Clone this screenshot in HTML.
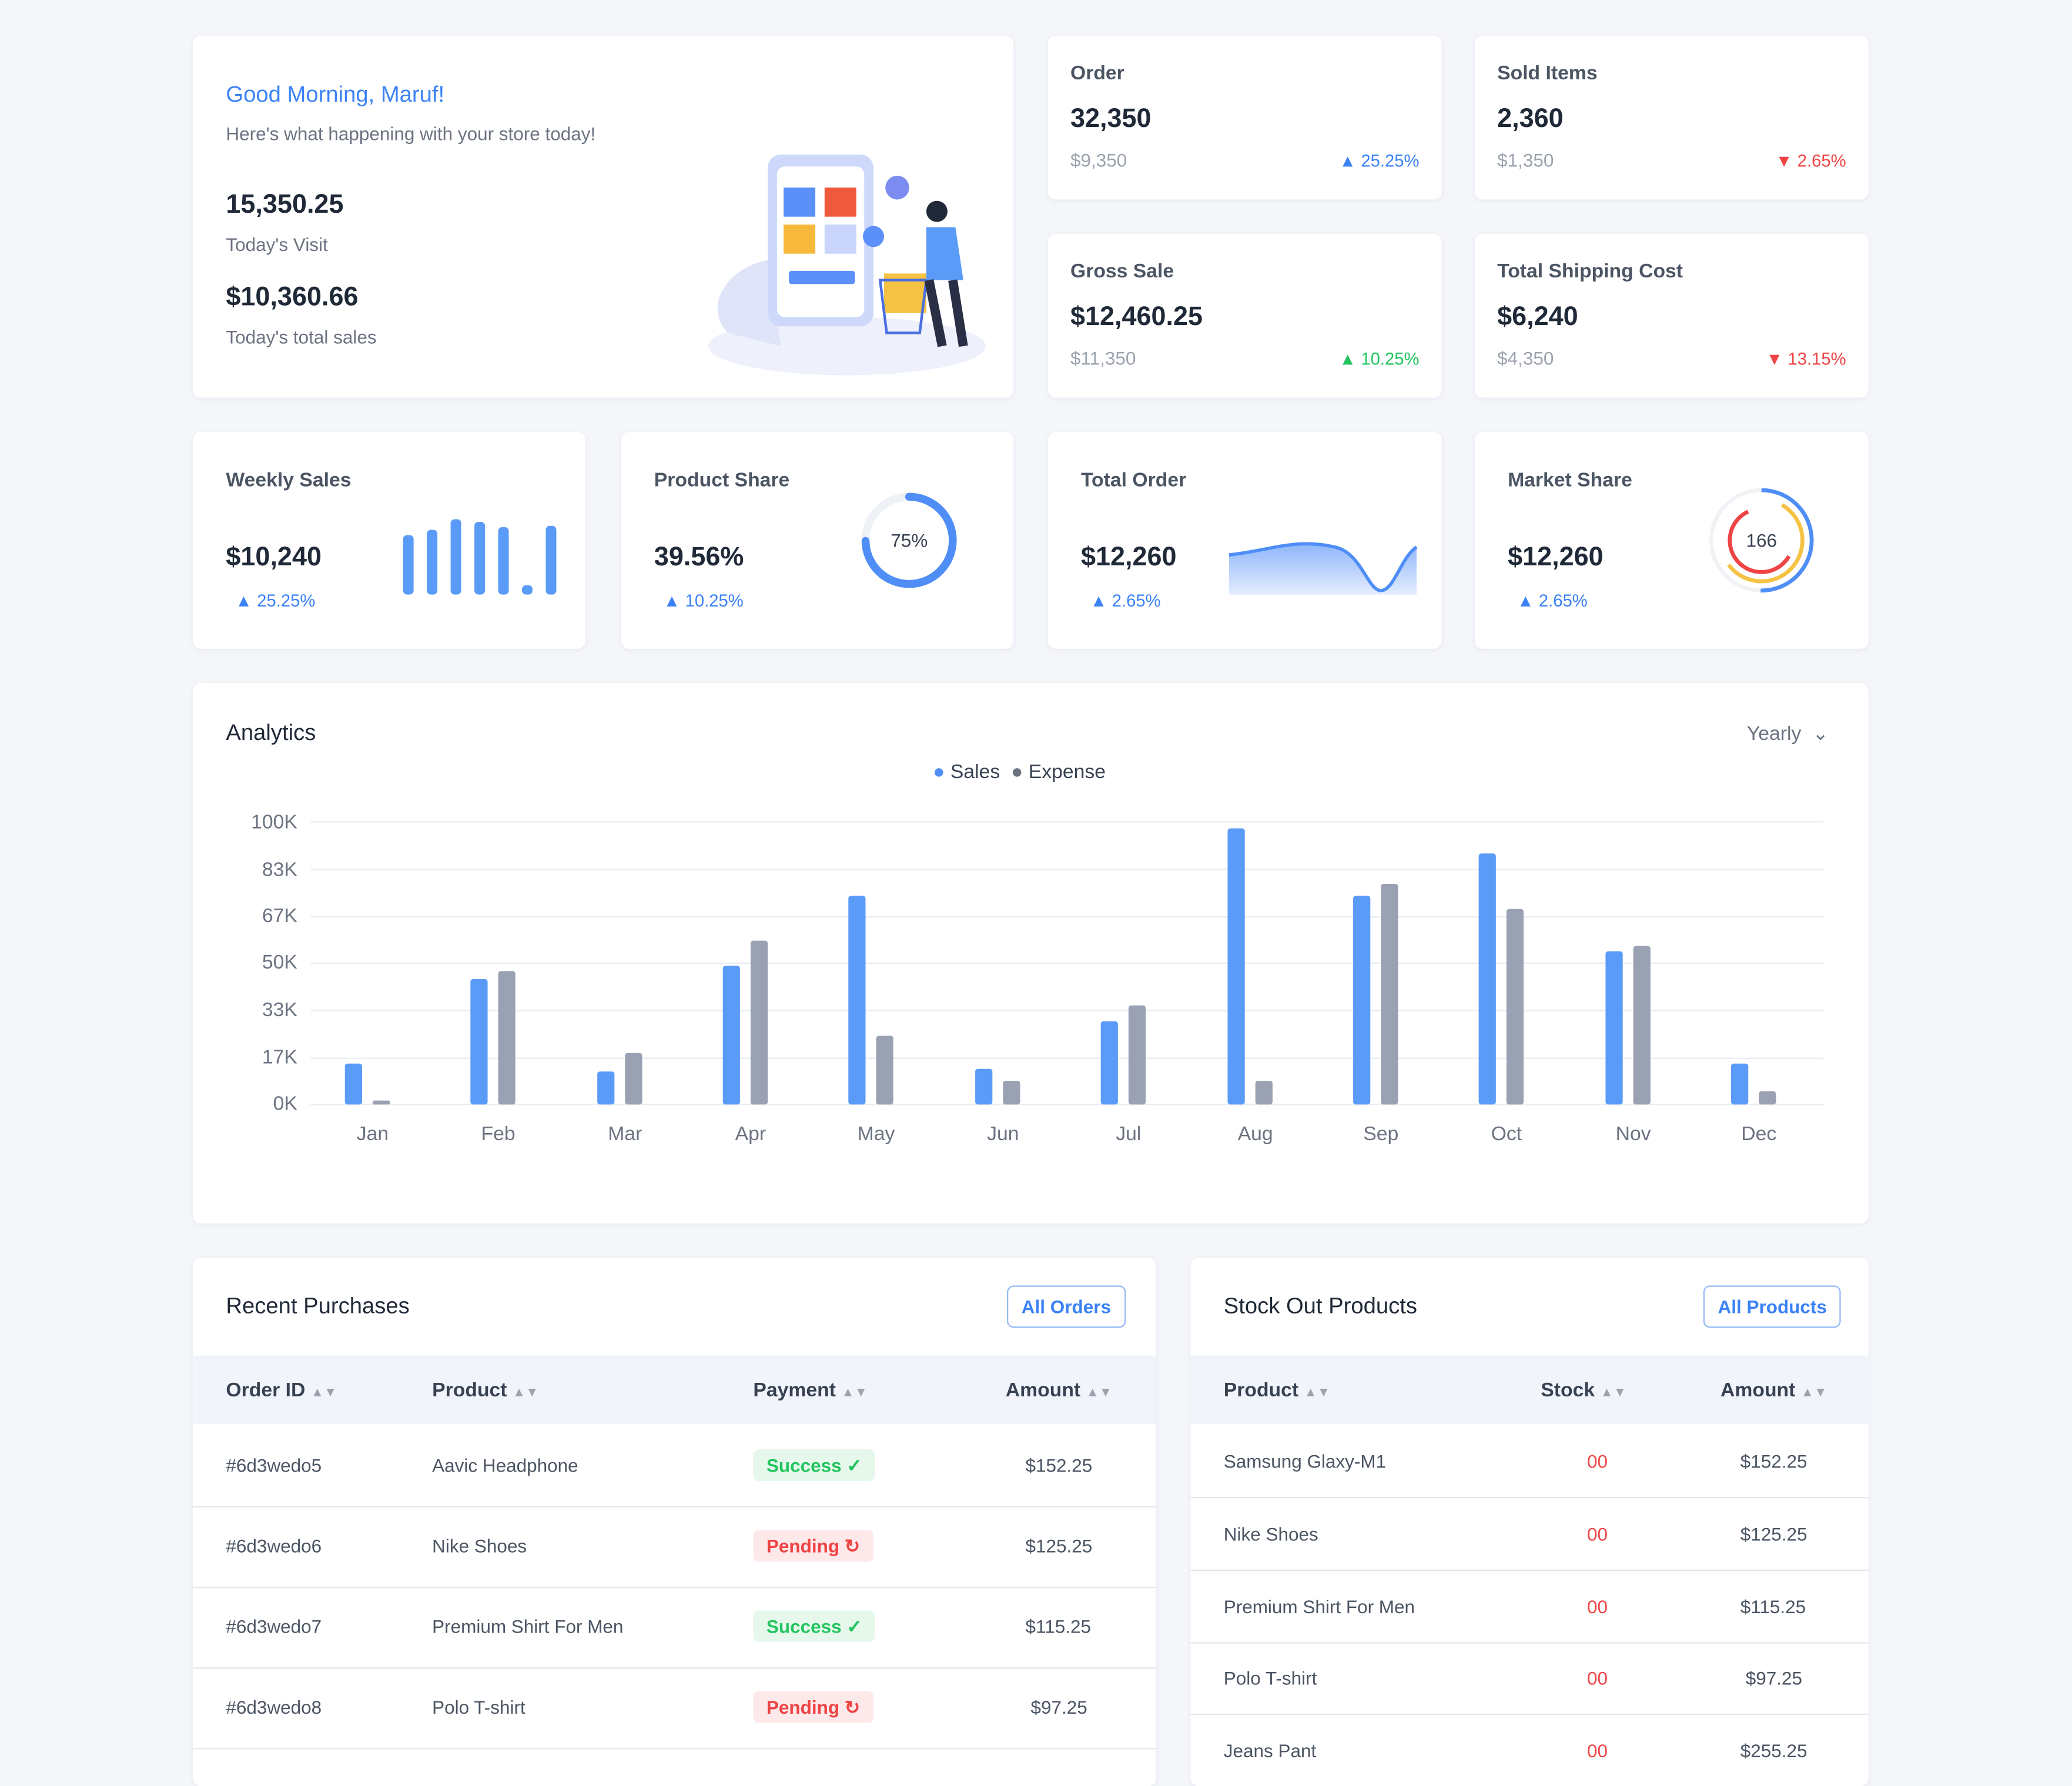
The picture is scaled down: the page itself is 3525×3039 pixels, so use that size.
<!DOCTYPE html>
<html><head><meta charset="utf-8"><style>
html,body{margin:0;padding:0;}
body{width:3525px;height:3000px;background:#f4f6fa;overflow:hidden;font-family:"Liberation Sans",sans-serif;}
#w{position:absolute;left:0;top:0;width:1568px;height:1335px;transform:scale(2.2481);transform-origin:0 0;}
.c{position:absolute;background:#fff;border-radius:6px;box-shadow:0 1px 4px rgba(30,40,80,0.06);overflow:hidden;}
.a{position:absolute;white-space:nowrap;}
.lbl{font-size:15px;color:#4b5563;font-weight:bold;}
.big{font-size:20px;font-weight:bold;color:#1f2937;}
.sub{font-size:14px;color:#9ca3af;}
.up{font-size:13px;color:#3b82f6;}
.upg{font-size:13px;color:#22c55e;}
.dn{font-size:13px;color:#ef4444;}
.th{font-size:15px;font-weight:bold;color:#374151;}
.td{font-size:14px;color:#4b5563;}
.ar{color:#9ca3af;font-size:10px;}
.badge{position:absolute;height:24px;border-radius:4px;font-size:14px;font-weight:bold;line-height:24px;padding:0 10px;}
.ok{background:#e6f8ec;color:#22c55e;}
.pd{background:#fde8ea;color:#ef4444;}
.btn{position:absolute;border:1px solid #93b8f5;border-radius:5px;color:#3b82f6;font-size:14px;font-weight:bold;height:30px;line-height:30px;padding:0 10px;}
.row{position:absolute;left:0;right:0;border-top:1px solid #e5e7eb;}
</style></head><body><div id="w">

<div class="c" style="left:146px;top:27px;width:621px;height:274px">
<div class="a" style="left:25px;top:35px;font-size:17px;color:#3b82f6">Good Morning, Maruf!</div>
<div class="a" style="left:25px;top:66px;font-size:14px;color:#6b7280">Here's what happening with your store today!</div>
<div class="a big" style="left:25px;top:117px">15,350.25</div>
<div class="a" style="left:25px;top:150px;font-size:14px;color:#6b7280">Today's Visit</div>
<div class="a big" style="left:25px;top:187px">$10,360.66</div>
<div class="a" style="left:25px;top:220px;font-size:14px;color:#6b7280">Today's total sales</div>
<svg class="a" style="left:385px;top:85px" width="220" height="180">
<ellipse cx="110" cy="150" rx="105" ry="22" fill="#eef1fb"/>
<path d="M20 140 C0 120 20 90 50 85 L60 150 Z" fill="#dfe4f8"/>
<rect x="50" y="5" width="80" height="130" rx="10" fill="#cdd8fb"/>
<rect x="57" y="14" width="66" height="114" rx="6" fill="#fff"/>
<rect x="62" y="30" width="24" height="22" fill="#5b8ff9"/><rect x="93" y="30" width="24" height="22" fill="#f05a3c"/>
<rect x="62" y="58" width="24" height="22" fill="#f6b93b"/><rect x="93" y="58" width="24" height="22" fill="#c9d5fb"/>
<rect x="66" y="93" width="50" height="10" rx="2" fill="#5b8ff9"/>
<circle cx="148" cy="30" r="9" fill="#7c8cf0"/><circle cx="130" cy="67" r="8" fill="#5b8ff9"/>
<rect x="138" y="95" width="32" height="30" fill="#f6c244"/>
<path d="M135 100 L170 100 L165 140 L140 140 Z" fill="none" stroke="#4b6fe0" stroke-width="2"/>
<circle cx="178" cy="48" r="8" fill="#1f2937"/>
<path d="M170 60 L192 60 L198 100 L170 100 Z" fill="#5b9bf8"/>
<path d="M172 100 L182 150 M190 100 L198 150" stroke="#2a2f45" stroke-width="7"/>
</svg>
</div>

<div class="c" style="left:793px;top:27px;width:298px;height:124px">
<div class="a lbl" style="left:17px;top:20px">Order</div>
<div class="a big" style="left:17px;top:52px">32,350</div>
<div class="a sub" style="left:17px;top:86px">$9,350</div>
<div class="a up" style="right:17px;top:87px">▲ 25.25%</div></div>
<div class="c" style="left:1116px;top:27px;width:298px;height:124px">
<div class="a lbl" style="left:17px;top:20px">Sold Items</div>
<div class="a big" style="left:17px;top:52px">2,360</div>
<div class="a sub" style="left:17px;top:86px">$1,350</div>
<div class="a dn" style="right:17px;top:87px">▼ 2.65%</div></div>
<div class="c" style="left:793px;top:177px;width:298px;height:124px">
<div class="a lbl" style="left:17px;top:20px">Gross Sale</div>
<div class="a big" style="left:17px;top:52px">$12,460.25</div>
<div class="a sub" style="left:17px;top:86px">$11,350</div>
<div class="a upg" style="right:17px;top:87px">▲ 10.25%</div></div>
<div class="c" style="left:1116px;top:177px;width:298px;height:124px">
<div class="a lbl" style="left:17px;top:20px">Total Shipping Cost</div>
<div class="a big" style="left:17px;top:52px">$6,240</div>
<div class="a sub" style="left:17px;top:86px">$4,350</div>
<div class="a dn" style="right:17px;top:87px">▼ 13.15%</div></div>

<div class="c" style="left:146px;top:327px;width:297px;height:164px">
<div class="a lbl" style="left:25px;top:28px">Weekly Sales</div>
<div class="a big" style="left:25px;top:84px">$10,240</div>
<div class="a up" style="left:32px;top:120px">▲ 25.25%</div>
<svg class="a" style="left:155px;top:60px" width="130" height="65">
<g fill="#5b9bf8"><rect x="4" y="18" width="8" height="45" rx="3"/><rect x="22" y="14" width="8" height="49" rx="3"/><rect x="40" y="6" width="8" height="57" rx="3"/><rect x="58" y="8" width="8" height="55" rx="3"/><rect x="76" y="12" width="8" height="51" rx="3"/><rect x="94" y="56" width="8" height="7" rx="3"/><rect x="112" y="11" width="8" height="52" rx="3"/></g></svg>
</div>
<div class="c" style="left:470px;top:327px;width:297px;height:164px">
<div class="a lbl" style="left:25px;top:28px">Product Share</div>
<div class="a big" style="left:25px;top:84px">39.56%</div>
<div class="a up" style="left:32px;top:120px">▲ 10.25%</div>
<svg class="a" style="left:178px;top:42px" width="80" height="80">
<circle cx="40" cy="40" r="33" fill="none" stroke="#eef1f6" stroke-width="6"/>
<circle cx="40" cy="40" r="33" fill="none" stroke="#4f8ef7" stroke-width="6" stroke-dasharray="155 207" transform="rotate(-90 40 40)" stroke-linecap="round"/>
<text x="40" y="45" font-size="14" text-anchor="middle" fill="#374151" font-family="Liberation Sans">75%</text></svg>
</div>
<div class="c" style="left:793px;top:327px;width:298px;height:164px">
<div class="a lbl" style="left:25px;top:28px">Total Order</div>
<div class="a big" style="left:25px;top:84px">$12,260</div>
<div class="a up" style="left:32px;top:120px">▲ 2.65%</div>
<svg class="a" style="left:137px;top:75px" width="145" height="50">
<defs><linearGradient id="g" x1="0" y1="0" x2="0" y2="1"><stop offset="0" stop-color="#8fb6fa"/><stop offset="1" stop-color="#e3edfe"/></linearGradient></defs>
<path d="M0 18 C30 15 50 5 80 12 C100 16 105 45 115 45 C125 45 130 20 142 12 L142 48 L0 48 Z" fill="url(#g)"/>
<path d="M0 18 C30 15 50 5 80 12 C100 16 105 45 115 45 C125 45 130 20 142 12" fill="none" stroke="#4f8ef7" stroke-width="2.5"/></svg>
</div>
<div class="c" style="left:1116px;top:327px;width:298px;height:164px">
<div class="a lbl" style="left:25px;top:28px">Market Share</div>
<div class="a big" style="left:25px;top:84px">$12,260</div>
<div class="a up" style="left:32px;top:120px">▲ 2.65%</div>
<svg class="a" style="left:175px;top:40px" width="84" height="84">
<circle cx="42" cy="42" r="38" fill="none" stroke="#f1f2f5" stroke-width="3"/>
<circle cx="42" cy="42" r="38" fill="none" stroke="#4f8ef7" stroke-width="3" stroke-dasharray="120 240" transform="rotate(-90 42 42)"/>
<circle cx="42" cy="42" r="31" fill="none" stroke="#f6c244" stroke-width="3" stroke-dasharray="110 200" transform="rotate(-60 42 42)"/>
<circle cx="42" cy="42" r="24" fill="none" stroke="#ef4444" stroke-width="3" stroke-dasharray="90 160" transform="rotate(30 42 42)"/>
<text x="42" y="47" font-size="14" text-anchor="middle" fill="#374151" font-family="Liberation Sans">166</text></svg>
</div>

<div class="c" style="left:146px;top:517px;width:1268px;height:409px">
<div class="a" style="left:25px;top:28px;font-size:17px;color:#1f2937">Analytics</div>
<div class="a" style="right:30px;top:29px;font-size:15px;color:#6b7280">Yearly &nbsp;⌄</div>
<div class="a" style="left:560px;top:59px;font-size:15px;color:#374151"><span style="color:#4f8ef7">●</span> Sales &nbsp;<span style="color:#6b7280">●</span> Expense</div>
</div>
<svg class="a" style="left:0;top:0" width="1568" height="900" font-family="Liberation Sans" font-size="15" fill="#6b7280">
<g stroke="#e9ecf2" stroke-width="1">
<line x1="235" y1="622" x2="1380" y2="622"/><line x1="235" y1="658" x2="1380" y2="658"/><line x1="235" y1="694" x2="1380" y2="694"/><line x1="235" y1="729" x2="1380" y2="729"/><line x1="235" y1="765" x2="1380" y2="765"/><line x1="235" y1="801" x2="1380" y2="801"/><line x1="235" y1="836" x2="1380" y2="836"/></g>
<g text-anchor="end"><text x="225" y="627">100K</text><text x="225" y="663">83K</text><text x="225" y="698">67K</text><text x="225" y="733">50K</text><text x="225" y="769">33K</text><text x="225" y="805">17K</text><text x="225" y="840">0K</text></g>
<g text-anchor="middle"><text x="282" y="863">Jan</text><text x="377" y="863">Feb</text><text x="473" y="863">Mar</text><text x="568" y="863">Apr</text><text x="663" y="863">May</text><text x="759" y="863">Jun</text><text x="854" y="863">Jul</text><text x="950" y="863">Aug</text><text x="1045" y="863">Sep</text><text x="1140" y="863">Oct</text><text x="1236" y="863">Nov</text><text x="1331" y="863">Dec</text></g>
<g fill="#5b9bf8">
<rect x="261" y="805" width="13" height="31" rx="2"/><rect x="356" y="741" width="13" height="95" rx="2"/><rect x="452" y="811" width="13" height="25" rx="2"/><rect x="547" y="731" width="13" height="105" rx="2"/><rect x="642" y="678" width="13" height="158" rx="2"/><rect x="738" y="809" width="13" height="27" rx="2"/><rect x="833" y="773" width="13" height="63" rx="2"/><rect x="929" y="627" width="13" height="209" rx="2"/><rect x="1024" y="678" width="13" height="158" rx="2"/><rect x="1119" y="646" width="13" height="190" rx="2"/><rect x="1215" y="720" width="13" height="116" rx="2"/><rect x="1310" y="805" width="13" height="31" rx="2"/></g>
<g fill="#9aa1b2">
<rect x="282" y="833" width="13" height="3" rx="1"/><rect x="377" y="735" width="13" height="101" rx="2"/><rect x="473" y="797" width="13" height="39" rx="2"/><rect x="568" y="712" width="13" height="124" rx="2"/><rect x="663" y="784" width="13" height="52" rx="2"/><rect x="759" y="818" width="13" height="18" rx="2"/><rect x="854" y="761" width="13" height="75" rx="2"/><rect x="950" y="818" width="13" height="18" rx="2"/><rect x="1045" y="669" width="13" height="167" rx="2"/><rect x="1140" y="688" width="13" height="148" rx="2"/><rect x="1236" y="716" width="13" height="120" rx="2"/><rect x="1331" y="826" width="13" height="10" rx="2"/></g>
</svg>

<div class="c" style="left:146px;top:952px;width:729px;height:400px">
<div class="a" style="left:25px;top:27px;font-size:17px;color:#1f2937">Recent Purchases</div>
<div class="btn" style="left:616px;top:21px">All Orders</div>
<div class="a" style="left:0;top:74px;width:729px;height:52px;background:#f1f4fb"></div>
<div class="a th" style="left:25px;top:92px">Order ID <span class="ar">▲▼</span></div>
<div class="a th" style="left:181px;top:92px">Product <span class="ar">▲▼</span></div>
<div class="a th" style="left:424px;top:92px">Payment <span class="ar">▲▼</span></div>
<div class="a th" style="left:615px;top:92px">Amount <span class="ar">▲▼</span></div>
<div class="row" style="top:188px"></div><div class="row" style="top:249px"></div><div class="row" style="top:310px"></div><div class="row" style="top:371px"></div>
<div class="a td" style="left:25px;top:149px">#6d3wedo5</div><div class="a td" style="left:181px;top:149px">Aavic Headphone</div><div class="badge ok" style="left:424px;top:145px">Success ✓</div><div class="a td" style="left:630px;top:149px">$152.25</div>
<div class="a td" style="left:25px;top:210px">#6d3wedo6</div><div class="a td" style="left:181px;top:210px">Nike Shoes</div><div class="badge pd" style="left:424px;top:206px">Pending ↻</div><div class="a td" style="left:630px;top:210px">$125.25</div>
<div class="a td" style="left:25px;top:271px">#6d3wedo7</div><div class="a td" style="left:181px;top:271px">Premium Shirt For Men</div><div class="badge ok" style="left:424px;top:267px">Success ✓</div><div class="a td" style="left:630px;top:271px">$115.25</div>
<div class="a td" style="left:25px;top:332px">#6d3wedo8</div><div class="a td" style="left:181px;top:332px">Polo T-shirt</div><div class="badge pd" style="left:424px;top:328px">Pending ↻</div><div class="a td" style="left:634px;top:332px">$97.25</div>
</div>

<div class="c" style="left:901px;top:952px;width:513px;height:400px">
<div class="a" style="left:25px;top:27px;font-size:17px;color:#1f2937">Stock Out Products</div>
<div class="btn" style="left:388px;top:21px">All Products</div>
<div class="a" style="left:0;top:74px;width:513px;height:52px;background:#f1f4fb"></div>
<div class="a th" style="left:25px;top:92px">Product <span class="ar">▲▼</span></div>
<div class="a th" style="left:265px;top:92px">Stock <span class="ar">▲▼</span></div>
<div class="a th" style="left:401px;top:92px">Amount <span class="ar">▲▼</span></div>
<div class="row" style="top:181px"></div><div class="row" style="top:236px"></div><div class="row" style="top:291px"></div><div class="row" style="top:345px"></div>
<div class="a td" style="left:25px;top:146px">Samsung Glaxy-M1</div><div class="a td" style="left:300px;top:146px;color:#ef4444">00</div><div class="a td" style="left:416px;top:146px">$152.25</div>
<div class="a td" style="left:25px;top:201px">Nike Shoes</div><div class="a td" style="left:300px;top:201px;color:#ef4444">00</div><div class="a td" style="left:416px;top:201px">$125.25</div>
<div class="a td" style="left:25px;top:256px">Premium Shirt For Men</div><div class="a td" style="left:300px;top:256px;color:#ef4444">00</div><div class="a td" style="left:416px;top:256px">$115.25</div>
<div class="a td" style="left:25px;top:310px">Polo T-shirt</div><div class="a td" style="left:300px;top:310px;color:#ef4444">00</div><div class="a td" style="left:420px;top:310px">$97.25</div>
<div class="a td" style="left:25px;top:365px">Jeans Pant</div><div class="a td" style="left:300px;top:365px;color:#ef4444">00</div><div class="a td" style="left:416px;top:365px">$255.25</div>
</div>

</div></body></html>
